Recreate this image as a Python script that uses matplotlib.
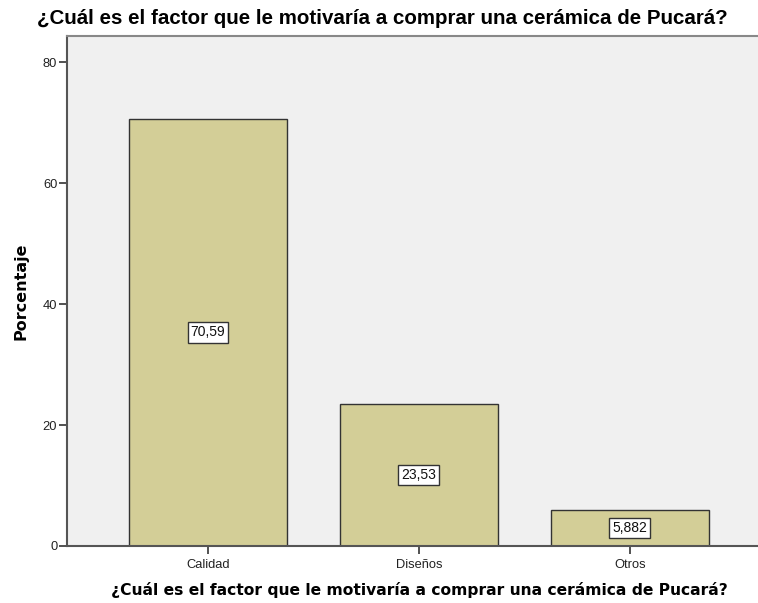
import matplotlib
matplotlib.use("Agg")
import matplotlib.pyplot as plt

categories = ["Calidad", "Diseños", "Otros"]
values = [70.59, 23.53, 5.882]
labels = ["70,59", "23,53", "5,882"]
yticks = [0, 20, 40, 60, 80]

title = "¿Cuál es el factor que le motivaría a comprar una cerámica de Pucará?"

fig = plt.figure(figsize=(7.58, 6.03), dpi=100)
ax = fig.add_axes([67/758, 57/603, 1 - 67/758, (546-36)/603])
ax.set_facecolor("#F0F0F0")

x = list(range(len(categories)))
ax.bar(x, values, width=0.75, color="#D3CE97", edgecolor="#333333", linewidth=1.0, zorder=2)
for xi, v, lab in zip(x, values, labels):
    ax.text(xi, v / 2, lab, ha="center", va="center", fontsize=10, family="Liberation Sans",
            color="#111111", zorder=3,
            bbox=dict(boxstyle="square,pad=0.22", facecolor="white", edgecolor="#333333", linewidth=1.0))

ax.set_xlim(-0.668, 2.607)
ax.set_ylim(0, 84.3)
ax.set_yticks(yticks)
ax.set_xticks(x)
ax.set_xticklabels(categories)
ax.tick_params(axis="both", direction="out", colors="#333333", labelcolor="#222222",
               labelsize=9.3, width=1.2)
ax.tick_params(axis="y", length=6, pad=1)
ax.tick_params(axis="x", length=5.5, pad=4)
for lbl in ax.get_xticklabels() + ax.get_yticklabels():
    lbl.set_family("Liberation Sans")

ax.spines["right"].set_visible(False)
ax.spines["left"].set_color("#555555")
ax.spines["left"].set_linewidth(1.5)
ax.spines["bottom"].set_color("#555555")
ax.spines["bottom"].set_linewidth(1.5)
ax.spines["top"].set_color("#888888")
ax.spines["top"].set_linewidth(1.5)

ax.set_ylabel("Porcentaje", fontsize=11.5, fontweight="bold", family="DejaVu Sans", labelpad=10)
ax.set_xlabel(title, fontsize=11.2, fontweight="bold", family="DejaVu Sans", labelpad=8)
ax.xaxis.label.set_x((419 - 67) / (758 - 67))
fig.text(382/758, 1 - 18/603, title, ha="center", va="center", fontsize=14.8,
         fontweight="bold", family="Liberation Sans")

fig.savefig("out.png", dpi=100)
